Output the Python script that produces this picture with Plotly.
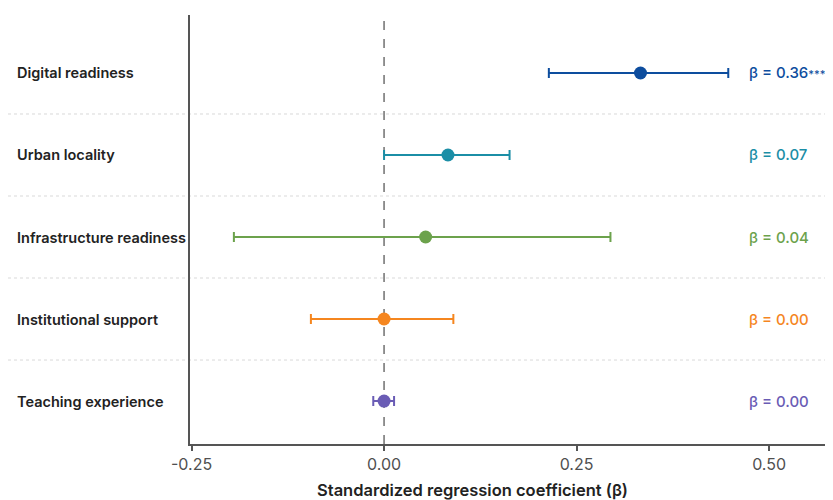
import plotly.graph_objects as go

# ---- data ----
predictors = ["Teaching experience", "Institutional support", "Infrastructure readiness",
              "Urban locality", "Digital readiness"]
beta = [0.00, 0.00, 0.054, 0.083, 0.333]
ci_low = [-0.014, -0.095, -0.195, 0.000, 0.214]
ci_high = [0.013, 0.090, 0.294, 0.163, 0.447]
beta_labels = ["β = 0.00", "β = 0.00", "β = 0.04", "β = 0.07", "β = 0.36***"]
colors = ["#6a5cb5", "#f5861f", "#6ca24c", "#1b8ea6", "#0d4d9e"]
x_ticks = [-0.25, 0.0, 0.25, 0.5]
x_ticktext = ["-0.25", "0.00", "0.25", "0.50"]

# page body adds an 8px offset; figure coordinates are compensated for it
OFF = 8
W, H = 833, 500
ML, MR, MT, MB = 190 - OFF, OFF, 15 - OFF, 56 + OFF
PW = W - ML - MR
PH = H - MT - MB
x_range = [-0.252, 0.583]
y_range = [-0.524, 4.707]
FONT = "Inter"

fig = go.Figure()
for i, name in enumerate(predictors):
    fig.add_trace(go.Scatter(
        x=[beta[i]], y=[i], mode="markers",
        marker=dict(size=13, color=colors[i]),
        error_x=dict(type="data", symmetric=False,
                     array=[ci_high[i] - beta[i]],
                     arrayminus=[beta[i] - ci_low[i]],
                     color=colors[i], thickness=2, width=5),
        showlegend=False, hoverinfo="skip",
    ))

shapes = []
shapes.append(dict(type="line", xref="x", yref="paper", x0=0, x1=0, y0=0, y1=1,
                   line=dict(color="#707070", width=1.5, dash="dash"), layer="below"))
for k in range(1, len(predictors)):
    yv = k - 0.5
    shapes.append(dict(type="line", xref="paper", yref="y", x0=(8 - 190) / PW, x1=1, y0=yv, y1=yv,
                       line=dict(color="#d9d9d9", width=1, dash="dot"), layer="below"))


def fmt_beta(s):
    if s.endswith("***"):
        return s[:-3] + "<span style='font-size:11px'>***</span>"
    return s


annotations = []
for i, name in enumerate(predictors):
    annotations.append(dict(text=name, xref="paper", yref="y", x=(15 - 190) / PW, y=i,
                            xanchor="left", yanchor="middle", showarrow=False,
                            font=dict(family=FONT, size=14.5, color="#222222", weight=600)))
    annotations.append(dict(text=fmt_beta(beta_labels[i]), xref="paper", yref="y",
                            x=(747 - 190) / PW, y=i,
                            xanchor="left", yanchor="middle", showarrow=False,
                            font=dict(family=FONT, size=15, color=colors[i], weight=500)))
annotations.append(dict(text="Standardized regression coefficient (β)", xref="paper", yref="paper",
                        x=(472 - 190) / PW, y=-(490 - 444) / PH,
                        xanchor="center", yanchor="middle", showarrow=False,
                        font=dict(family=FONT, size=16.5, color="#222222", weight=600)))

fig.update_layout(
    width=W, height=H,
    margin=dict(l=ML, r=MR, t=MT, b=MB),
    paper_bgcolor="#ffffff", plot_bgcolor="#ffffff",
    shapes=shapes, annotations=annotations,
    xaxis=dict(range=x_range, tickvals=x_ticks, ticktext=x_ticktext,
               showgrid=False, zeroline=False, showline=True, linecolor="#555555", linewidth=2,
               ticks="outside", ticklen=5, tickwidth=1.5, tickcolor="#555555",
               tickfont=dict(family=FONT, size=16, color="#505050")),
    yaxis=dict(range=y_range, showticklabels=False, showgrid=False, zeroline=False,
               showline=True, linecolor="#555555", linewidth=2, ticks=""),
)

fig.write_html("out.html")
